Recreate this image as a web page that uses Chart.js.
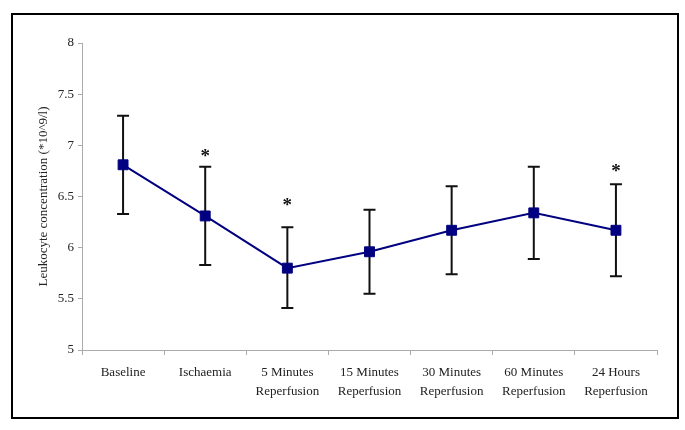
<!DOCTYPE html>
<html>
<head>
<meta charset="utf-8">
<script src="https://cdn.jsdelivr.net/npm/chart.js@4/dist/chart.umd.min.js"></script>
<style>
  html, body { margin: 0; padding: 0; background: #fff; }
  #wrap { position: relative; width: 685px; height: 430px; }
  #frame { position: absolute; left: 11px; top: 13px; width: 664px; height: 402px; border: 2px solid #000; pointer-events: none; }
  canvas { position: absolute; left: 0; top: 0; }
</style>
</head>
<body>
<div id="wrap">
  <canvas id="chart" width="685" height="430"></canvas>
  <div id="frame"></div>
</div>
<script>
const categories = [
  "Baseline",
  "Ischaemia",
  ["5 Minutes", "Reperfusion"],
  ["15 Minutes", "Reperfusion"],
  ["30 Minutes", "Reperfusion"],
  ["60 Minutes", "Reperfusion"],
  ["24 Hours", "Reperfusion"]
];
const means = [6.81, 6.31, 5.80, 5.96, 6.17, 6.34, 6.17];
const upper = [7.29, 6.79, 6.20, 6.37, 6.60, 6.79, 6.62];
const lower = [6.33, 5.83, 5.41, 5.55, 5.74, 5.89, 5.72];
// where the significance asterisks sit (null = none)
const stars = [null, 6.92, 6.45, null, null, null, 6.78];

const navy = "#000080";
const serif = "'Liberation Serif', 'Times New Roman', serif";

// error bars drawn under the line, asterisks on top
const errorBars = {
  id: "errorBars",
  beforeDatasetsDraw(chart) {
    const c = chart.ctx;
    const x = chart.scales.x, y = chart.scales.y;
    c.save();
    c.strokeStyle = "#111";
    c.lineWidth = 2;
    means.forEach((m, i) => {
      const px = x.getPixelForValue(i);
      const top = y.getPixelForValue(upper[i]);
      const bot = y.getPixelForValue(lower[i]);
      c.beginPath();
      c.moveTo(px, top); c.lineTo(px, bot);
      c.moveTo(px - 6, top); c.lineTo(px + 6, top);
      c.moveTo(px - 6, bot); c.lineTo(px + 6, bot);
      c.stroke();
    });
    c.restore();
  },
  afterDatasetsDraw(chart) {
    const c = chart.ctx;
    const x = chart.scales.x, y = chart.scales.y;
    c.save();
    c.fillStyle = "#111";
    c.font = "bold 19px " + serif;
    c.textAlign = "center";
    c.textBaseline = "middle";
    stars.forEach((s, i) => {
      if (s === null) return;
      c.fillText("*", x.getPixelForValue(i), y.getPixelForValue(s) + 4);
    });
    c.restore();
  }
};

new Chart(document.getElementById("chart"), {
  type: "line",
  data: {
    labels: categories,
    datasets: [{
      data: means,
      borderColor: navy,
      backgroundColor: navy,
      borderWidth: 2,
      pointStyle: "rect",
      pointRadius: 7,
      pointBorderWidth: 1,
      tension: 0
    }]
  },
  options: {
    responsive: false,
    animation: false,
    layout: { padding: { left: 0, right: 28, top: 43, bottom: 0 } },
    plugins: { legend: { display: false }, tooltip: { enabled: false } },
    scales: {
      x: {
        offset: true,
        afterFit: s => { s.height = 80; },
        grid: { offset: true, drawOnChartArea: false, tickLength: 5, color: "#aaa" },
        border: { color: "#aaa" },
        ticks: {
          autoSkip: false, maxRotation: 0, padding: 8, color: "#222",
          font: { family: serif, size: 13, lineHeight: 1.45 }
        }
      },
      y: {
        min: 5, max: 8,
        afterFit: s => { s.width = 82; },
        grid: { drawOnChartArea: false, tickLength: 4, color: "#aaa" },
        border: { color: "#aaa" },
        ticks: {
          stepSize: 0.5, padding: 4, color: "#222",
          font: { family: serif, size: 13 },
          callback: v => String(v)
        },
        title: {
          display: true,
          text: "Leukocyte concentration (*10^9/l)",
          color: "#222",
          font: { family: serif, size: 13 },
          padding: { top: 36, bottom: 0 }
        }
      }
    }
  },
  plugins: [errorBars]
});
</script>
</body>
</html>
